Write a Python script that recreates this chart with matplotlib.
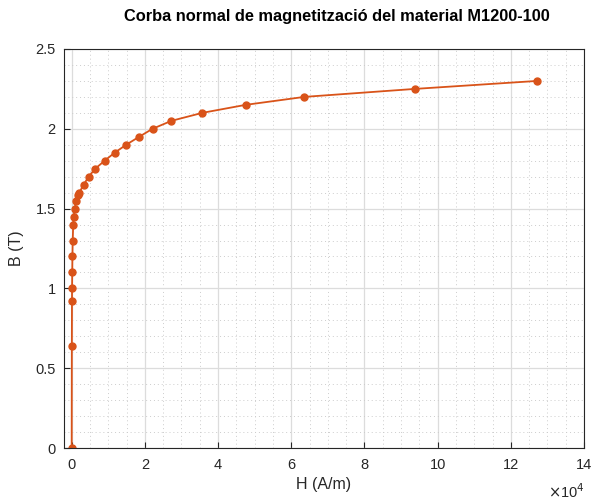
import numpy as np
import matplotlib.pyplot as plt
from matplotlib.ticker import MultipleLocator, FuncFormatter

plt.rcParams['font.family'] = ['Liberation Sans', 'DejaVu Sans']

# Corba B-H del material M1200-100 (llegida del gràfic)
H = [0, 40, 80, 100, 150, 200, 280, 420, 550, 820, 1250, 1720, 2070,
     3270, 4640, 6440, 9000, 11730, 14900, 18430, 22090, 27270, 35720,
     47530, 63620, 93810, 127240]
B = [0, 0.64, 0.92, 1.0, 1.1, 1.2, 1.3, 1.4, 1.45, 1.5, 1.55, 1.585, 1.6,
     1.65, 1.7, 1.75, 1.8, 1.85, 1.9, 1.95, 2.0, 2.05, 2.1,
     2.15, 2.2, 2.25, 2.3]

fig = plt.figure(figsize=(5.92, 5.04), dpi=100)
ax = fig.add_axes([64/592, 1 - 448/504, 520/592, 399/504])

ax.plot(H, B, '-o', color='#D95319', lw=1.3, markersize=5)

ax.set_xlim(-2100, 140000)
ax.set_ylim(0, 2.5)
ax.xaxis.set_major_locator(MultipleLocator(20000))
ax.xaxis.set_minor_locator(MultipleLocator(5000))
ax.yaxis.set_major_locator(MultipleLocator(0.5))
ax.yaxis.set_minor_locator(MultipleLocator(0.1))
ax.xaxis.set_major_formatter(FuncFormatter(lambda v, p: '%g' % (v / 1e4)))
ax.yaxis.set_major_formatter(FuncFormatter(lambda v, p: '%g' % v))

ax.grid(which='major', color='#dcdcdc', lw=0.9)
ax.grid(which='minor', color='#cccccc', lw=0.7, linestyle=(0, (1, 3)))
ax.set_axisbelow(True)

for s in ax.spines.values():
    s.set_color('#262626')
    s.set_linewidth(0.8)
ax.tick_params(which='major', direction='in', length=4, width=0.8,
               colors='#262626', labelsize=10.5, top=False, right=False)
ax.tick_params(which='minor', length=0)
ax.tick_params(axis='x', pad=7)
ax.tick_params(axis='y', pad=6)

ax.set_xlabel('H (A/m)', fontsize=11.5, color='#262626', labelpad=4)
ax.set_ylabel('B (T)', fontsize=11.5, color='#262626', labelpad=8)
ax.set_title('Corba normal de magnetització del material M1200-100',
             fontsize=11.8, fontweight='bold', pad=20, x=0.525)

fig.text(548/592, 1 - 492/504, r'$\times$10$^4$', fontsize=10.5,
         color='#262626', va='center', ha='left')

fig.savefig('out.png', dpi=100)
